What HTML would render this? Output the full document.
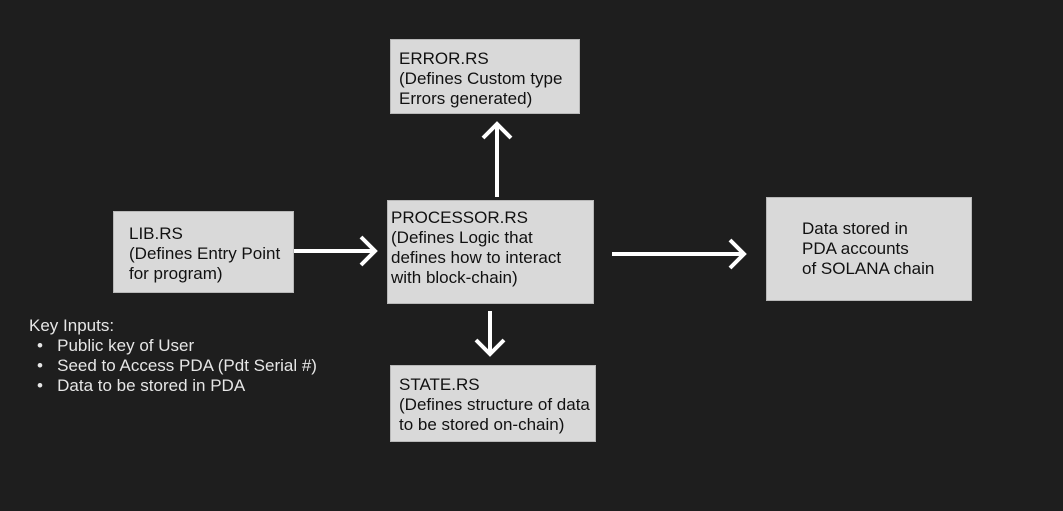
<!DOCTYPE html>
<html><head><meta charset="utf-8"><style>
body{margin:0;width:1063px;height:511px;background:#1e1e1e;overflow:hidden;position:relative;font-family:"Liberation Sans",sans-serif;}
.b{position:absolute;background:#d9d9d9;border:1px solid #b8b8b8;box-sizing:border-box;color:#111;font-size:17px;line-height:20px;padding:7px 0 0 4px;white-space:nowrap;}
.t{position:absolute;color:#e6e6e6;font-size:17px;line-height:20px;white-space:nowrap;}
svg{position:absolute;left:0;top:0}
</style></head><body>
<div class="b" style="left:390px;top:39px;width:190px;height:75px;padding-left:8px;padding-top:9px">ERROR.RS<br>(Defines Custom type<br>Errors generated)</div>
<div class="b" style="left:113px;top:211px;width:181px;height:82px;padding-left:15px;padding-top:12px">LIB.RS<br>(Defines Entry Point<br>for program)</div>
<div class="b" style="left:387px;top:200px;width:207px;height:104px;padding-left:3px">PROCESSOR.RS<br>(Defines Logic that<br>defines how to interact<br>with block-chain)</div>
<div class="b" style="left:766px;top:197px;width:206px;height:104px;padding-left:35px;padding-top:21px">Data stored in<br>PDA accounts<br>of SOLANA chain</div>
<div class="b" style="left:390px;top:365px;width:206px;height:77px;padding-left:8px;padding-top:9px">STATE.RS<br>(Defines structure of data<br>to be stored on-chain)</div>
<div class="t" style="left:29px;top:316px">Key Inputs:<br>
<div style="padding-left:8px">•&nbsp;&nbsp;&nbsp;Public key of User<br>•&nbsp;&nbsp;&nbsp;Seed to Access PDA (Pdt Serial #)<br>•&nbsp;&nbsp;&nbsp;Data to be stored in PDA</div></div>
<svg width="1063" height="511" fill="none" stroke="#fff" stroke-width="4" stroke-linecap="butt" stroke-linejoin="miter">
<path d="M294 251H375M361 237L375 251L361 265"/>
<path d="M497 197V124M483 138L497 124L511 138"/>
<path d="M612 254H744M730 240L744 254L730 268"/>
<path d="M490 311V354M476 340L490 354L504 340"/>
</svg>
</body></html>
